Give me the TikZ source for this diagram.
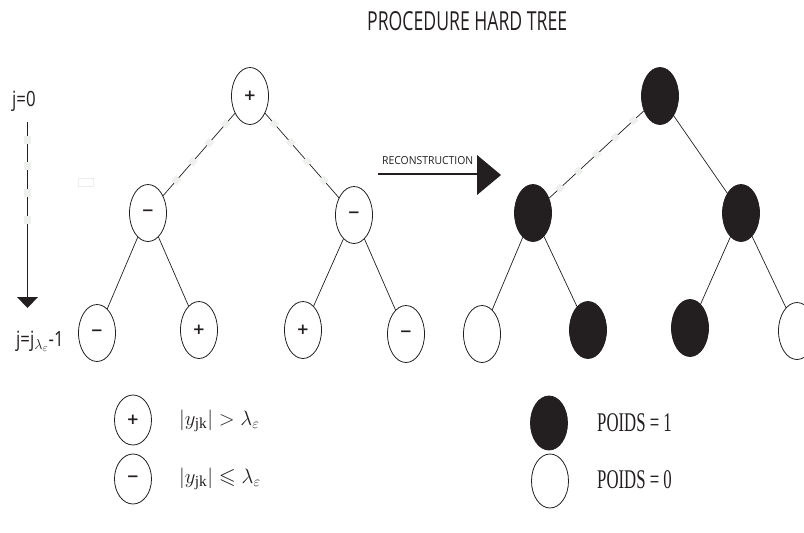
\documentclass[tikz,border=0pt]{standalone}
\usepackage{fontspec}
\usepackage{amsmath,amssymb}
\usetikzlibrary{shapes.geometric,decorations.markings}
\setmainfont{Liberation Serif}
\newfontfamily\myriad{Open Sans}
\newfontfamily\myriadc[FakeStretch=0.8]{Open Sans}
\newfontfamily\signfont{DejaVu Sans}
\definecolor{ink}{HTML}{231F20}
\definecolor{gapgray}{HTML}{EEF0EE}
\newcommand\msign{\textbf{−}}
\newcommand\psign{\textbf{+}}
\tikzset{
  tnode/.style={ellipse, draw=ink, line width=0.8pt, minimum width=37pt, minimum height=57pt, inner sep=0pt,
                font=\signfont\fontsize{15}{15}\selectfont, text=ink},
  bnode/.style={tnode, fill=ink},
  wnode/.style={tnode, fill=white},
  lnode/.style={tnode, minimum height=50pt},
  legb/.style={bnode, minimum height=54pt},
  legw/.style={wnode, minimum height=54pt},
  edge/.style={draw=ink, line width=0.7pt},
  gapedge/.style={edge, postaction={decorate},
     decoration={markings, mark=between positions 14pt and -12pt step 25pt with {\fill[gapgray] (-3.5pt,-3.5pt) rectangle (3.5pt,3.5pt);}}},
  lbl/.style={inner sep=0pt, text=ink},
}
\begin{document}
\begin{tikzpicture}[x=1pt,y=-1pt]
\useasboundingbox (0,0) rectangle (804,533);

% title
\node[lbl, anchor=base west] (title) at (367,30) {\resizebox{200pt}{19pt}{\myriad PROCEDURE HARD TREE}};

% level axis
\node[lbl, anchor=base west, font=\myriadc\fontsize{21}{21}\selectfont] (j0) at (12,106) {j=0};
\node[lbl, anchor=base west, font=\myriadc\fontsize{21}{21}\selectfont] (j1) at (16,346) {j=j$_{\lambda_{\varepsilon}}$-1};
\coordinate (ax0) at (27.5,122);
\coordinate (ax1) at (27.5,297);
\draw[edge] (ax0) -- (ax1);
\foreach \yy in {140,166,193,220} \fill[gapgray] (24,\yy-4) rectangle (31,\yy+4);
\fill[ink] (17,297) -- (38,297) -- (27.5,308) -- cycle;

% faint rectangle
\draw[black!7, line width=0.8pt] (78,178) rectangle (93,186);

% left tree
\node[tnode] (L0) at (250,96) {\psign};
\node[tnode] (L1) at (148,213) {\msign};
\node[tnode] (L2) at (354,215) {\msign};
\node[tnode] (L3) at (97,333) {\msign};
\node[tnode] (L4) at (199,330) {\psign};
\node[tnode] (L5) at (303,330) {\psign};
\node[tnode] (L6) at (406,334) {\msign};
\draw[gapedge] (L0) -- (L1);
\draw[gapedge] (L0) -- (L2);
\draw[edge] (L1) -- (L3);
\draw[edge] (L1) -- (L4);
\draw[edge] (L2) -- (L5);
\draw[edge] (L2) -- (L6);

% reconstruction arrow
\coordinate (ra0) at (378,174);
\coordinate (ra1) at (477,174);
\draw[edge, line width=1.2pt] (ra0) -- (ra1);
\fill[ink] (477,155) -- (501,175) -- (477,195) -- cycle;
\node[lbl, anchor=base west] (rec) at (382,164) {\resizebox{91pt}{8pt}{\myriad RECONSTRUCTION}};

% right tree
\node[bnode] (R0) at (660,96) {};
\node[bnode] (R1) at (533,213) {};
\node[bnode] (R2) at (741,213) {};
\node[wnode] (R3) at (482,334) {};
\node[bnode] (R4) at (588,330) {};
\node[bnode] (R5) at (690,328) {};
\node[wnode] (R6) at (797,331) {};
\draw[gapedge] (R0) -- (R1);
\draw[edge] (R0) -- (R2);
\draw[edge] (R1) -- (R3);
\draw[edge] (R1) -- (R4);
\draw[edge] (R2) -- (R5);
\draw[edge] (R2) -- (R6);

% legend
\node[lnode] (Lp) at (133,420) {\psign};
\node[lnode] (Lm) at (133,479) {\msign};
\node[lbl, anchor=west, font=\fontsize{22}{22}\selectfont] (tp) at (179,421) {$\lvert y_{\mathrm{jk}}\rvert > \lambda_{\varepsilon}$};
\node[lbl, anchor=west, font=\fontsize{22}{22}\selectfont] (tm) at (179,479) {$\lvert y_{\mathrm{jk}}\rvert \leqslant \lambda_{\varepsilon}$};
\node[legb] (Lb) at (549,423) {};
\node[legw] (Lw) at (550,481) {};
\node[lbl, anchor=west] (p1) at (597,423) {\scalebox{0.62}[1]{\fontsize{27}{27}\selectfont POIDS = 1}};
\node[lbl, anchor=west] (p0) at (597,480) {\scalebox{0.62}[1]{\fontsize{27}{27}\selectfont POIDS = 0}};
\end{tikzpicture}
\end{document}
